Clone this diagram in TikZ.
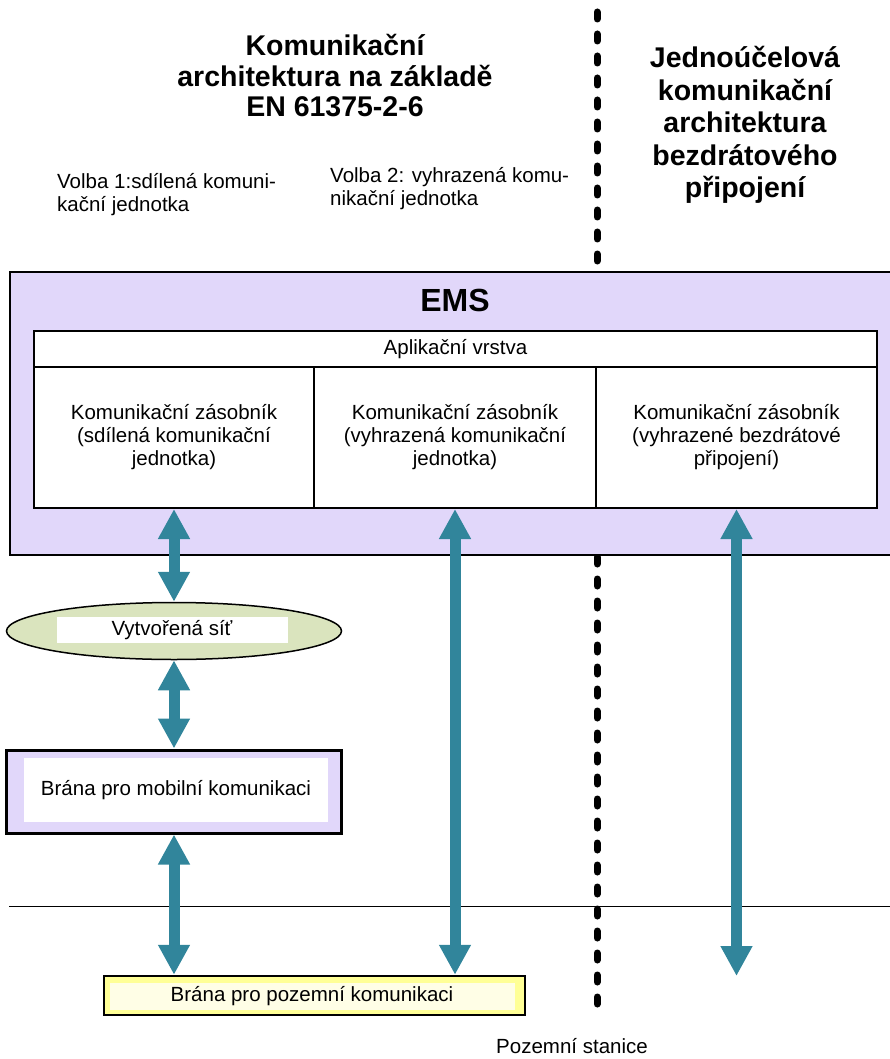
\documentclass[tikz,border=0pt]{standalone}
\usepackage{fontspec}
\setmainfont{Liberation Sans}
\usetikzlibrary{shapes.geometric,arrows.meta}

\definecolor{lavanda}{RGB}{225,215,250}
\definecolor{verdino}{RGB}{218,228,190}
\definecolor{petrolio}{RGB}{49,133,155}
\definecolor{giallino}{RGB}{255,255,150}

\begin{document}
\begin{tikzpicture}[x=1pt,y=-1pt]
\tikzstyle{testo} = [font=\fontsize{20.5}{23}\selectfont, inner sep=0, align=center]
\tikzstyle{titolo} = [font=\fontsize{28.5}{30.5}\selectfont\bfseries, inner sep=0, align=center]
\tikzstyle{cella} = [draw, line width=2pt, fill=white, minimum height=141pt, testo]
\tikzstyle{freccia} = [line width=11pt, draw=petrolio, {Triangle[length=30pt,width=30pt]}-{Triangle[length=30pt,width=30pt]}]
\tikzstyle{confine} = [line width=7pt, line cap=round, dash pattern=on 7pt off 15pt]

\useasboundingbox (0,0) rectangle (890,1059);

% Intestazioni
\node[titolo] (tit-sx) at (335,76) {Komunikační\\architektura na základě\\EN 61375-2-6};
\node[titolo, font=\fontsize{28.5}{32.5}\selectfont\bfseries] (tit-dx) at (745,125)
  {Jednoúčelová\\komunikační\\architektura\\bezdrátového\\připojení};
\node[testo, align=left, anchor=west] (volba-1) at (57,194.5) {Volba 1:sdílená komuni-\\kační jednotka};
\node[testo, align=left, anchor=west] (volba-2) at (330,189) {Volba 2: vyhrazená komu-\\nikační jednotka};

% Linea di confine tratteggiata
\coordinate (conf-a) at (597,12);
\coordinate (conf-b) at (597,264);
\coordinate (conf-c) at (597,557);
\coordinate (conf-d) at (597,1015);
\draw[confine] (conf-a) -- (conf-b);
\draw[confine] (conf-c) -- (conf-d);

% Linea orizzontale
\coordinate (orizz-a) at (9,906);
\coordinate (orizz-b) at (890,906);
\draw[line width=1pt] (orizz-a) -- (orizz-b);

% EMS
\node[draw, line width=2pt, fill=lavanda, minimum width=883pt, minimum height=283pt, inner sep=0] (ems) at (451.5,413.5) {};
\node[font=\fontsize{32}{36}\selectfont\bfseries, inner sep=0] (ems-tit) at (455,300) {EMS};
\node[cella, minimum width=843pt, minimum height=36pt] (app) at (455.5,349) {Aplikační vrstva};

% Colonne dei zásobník
\foreach \i/\x/\w/\txt in {
    1/174/280/{Komunikační zásobník\\(sdílená komunikační\\jednotka)},
    2/455/282/{Komunikační zásobník\\(vyhrazená komunikační\\jednotka)},
    3/736.5/281/{Komunikační zásobník\\(vyhrazené bezdrátové\\připojení)}} {
  \node[cella, minimum width=\w pt] (zas-\i) at (\x,437.5) {\txt};
}

% Rete
\node[ellipse, draw, line width=1.5pt, fill=verdino, minimum width=335pt, minimum height=57pt, inner sep=0] (rete) at (174,631) {};
\node[testo, fill=white, minimum width=231pt, minimum height=26pt] (rete-txt) at (172,630) {Vytvořená síť};

% Brána mobilní
\node[draw, line width=3pt, fill=lavanda, minimum width=335pt, minimum height=83pt, inner sep=0] (mobil) at (174,791.5) {};
\node[testo, fill=white, minimum width=304pt, minimum height=64pt] (mobil-txt) at (176,790) {Brána pro mobilní komunikaci};

% Brána pozemní
\node[draw, line width=2.5pt, fill=giallino, minimum width=421pt, minimum height=39pt, inner sep=0] (pozem) at (314.5,995.5) {};
\node[testo, fill=yellow!10, minimum width=405pt, minimum height=27pt] (pozem-txt) at (312,996) {Brána pro pozemní komunikaci};

\node[testo] (stanice) at (572,1046) {Pozemní stanice};

% --- Frecce -----------------------------------------------------------
\coordinate (fine-3) at (736.5,976);
\draw[freccia] (zas-1.south) -- (rete.north);
\draw[freccia] (rete.south) -- (mobil.north);
\draw[freccia] (mobil.south) -- (mobil.south |- pozem.north);
\draw[freccia] (zas-2.south) -- (zas-2.south |- pozem.north);
\draw[freccia] (zas-3.south) -- (fine-3);

\end{tikzpicture}
\end{document}
